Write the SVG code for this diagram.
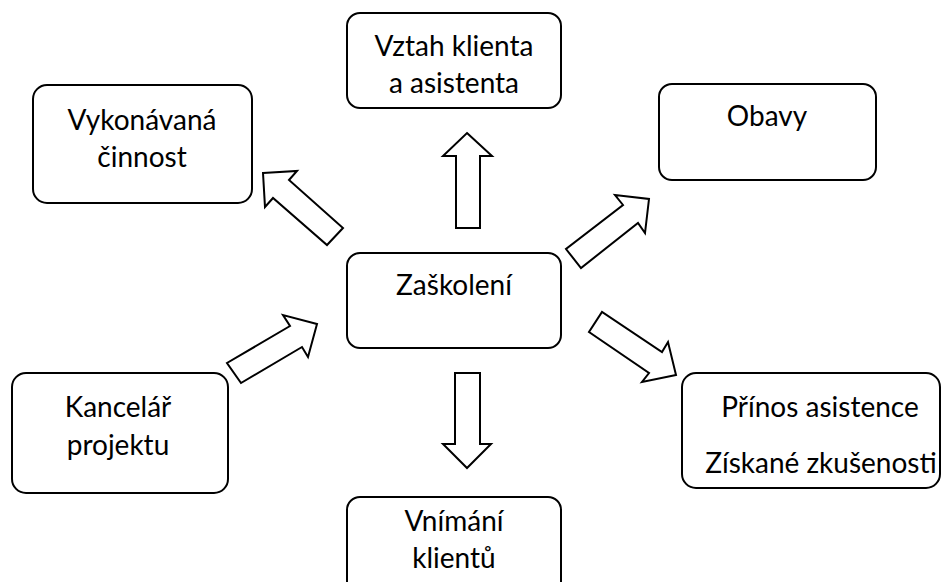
<svg xmlns="http://www.w3.org/2000/svg" width="945" height="582" viewBox="0 0 945 582">
  <style>
    .box { fill: #ffffff; stroke: #000000; stroke-width: 2; }
    .arrow { fill: #ffffff; stroke: #000000; stroke-width: 2; stroke-linejoin: miter; }
    .label { font-family: Lato, "Liberation Sans", sans-serif; font-size: 28px; fill: #000000; text-anchor: middle; }
  </style>
  <rect width="945" height="582" fill="#ffffff"/>

  <!-- block arrows radiating from the central node -->
  <g id="connectors">
    <polygon class="arrow" points="263,173 297,171 289,180 343,228 327,245 273,198 265,207"/>
    <polygon class="arrow" points="467,133 492,156 480,156 480,228 456,228 456,156 443,156"/>
    <polygon class="arrow" points="649,199 645,233 638,223 581,268 566,249 623,205 615,195"/>
    <polygon class="arrow" points="676,375 642,382 649,373 589,332 602,312 662,352 668,342"/>
    <polygon class="arrow" points="455,373 480,373 480,444 491,444 467,468 443,444 455,444"/>
    <polygon class="arrow" points="317,324 308,357 302,347 241,383 227,363 290,326 283,315"/>
  </g>

  <g id="zaskoleni">
    <rect class="box" x="347" y="253" width="214" height="95" rx="13"/>
    <text class="label" x="454" y="295">Zaškolení</text>
  </g>

  <g id="vztah">
    <rect class="box" x="347" y="13" width="214" height="95" rx="13"/>
    <text class="label" x="454" y="56">Vztah klienta</text>
    <text class="label" x="454" y="93">a asistenta</text>
  </g>

  <g id="vykonavana">
    <rect class="box" x="33" y="85" width="219" height="118" rx="14"/>
    <text class="label" x="142" y="130">Vykonávaná</text>
    <text class="label" x="142" y="167">činnost</text>
  </g>

  <g id="obavy">
    <rect class="box" x="659" y="84" width="217" height="96" rx="13"/>
    <text class="label" x="767" y="126">Obavy</text>
  </g>

  <g id="kancelar">
    <rect class="box" x="12" y="373" width="216" height="120" rx="14"/>
    <text class="label" x="118" y="417">Kancelář</text>
    <text class="label" x="118" y="455">projektu</text>
  </g>

  <g id="prinos">
    <rect class="box" x="682" y="373" width="258" height="115" rx="14"/>
    <text class="label" x="820" y="417">Přínos asistence</text>
    <text class="label" x="821" y="473">Získané zkušenosti</text>
  </g>

  <g id="vnimani">
    <rect class="box" x="347" y="497" width="214" height="100" rx="13"/>
    <text class="label" x="454" y="531">Vnímání</text>
    <text class="label" x="454" y="568">klientů</text>
  </g>
</svg>
